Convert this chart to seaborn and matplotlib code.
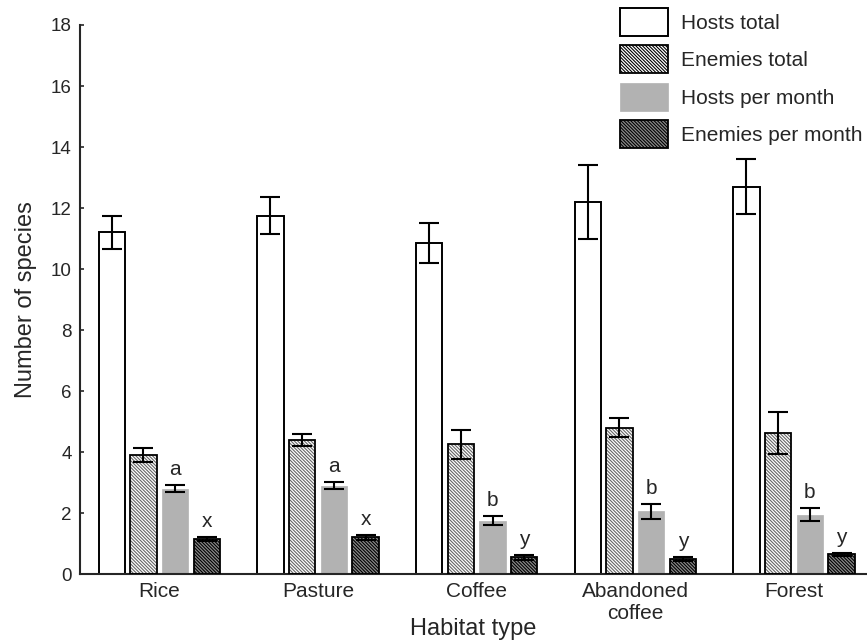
import matplotlib
matplotlib.use("Agg")
import matplotlib.pyplot as plt
from matplotlib.patches import Patch
import seaborn as sns
import pandas as pd

# values
habitats = ["Rice", "Pasture", "Coffee", "Abandoned\ncoffee", "Forest"]
measures = ["Hosts total", "Enemies total", "Hosts per month", "Enemies per month"]

hosts_total = [11.2, 11.75, 10.85, 12.2, 12.7]
hosts_total_se = [0.55, 0.6, 0.65, 1.2, 0.9]
enemies_total = [3.9, 4.4, 4.25, 4.8, 4.62]
enemies_total_se = [0.22, 0.2, 0.48, 0.31, 0.7]
hosts_month = [2.8, 2.9, 1.75, 2.05, 1.95]
hosts_month_se = [0.12, 0.12, 0.15, 0.24, 0.22]
enemies_month = [1.15, 1.2, 0.55, 0.5, 0.65]
enemies_month_se = [0.06, 0.09, 0.08, 0.07, 0.05]

letters_hosts = ["a", "a", "b", "b", "b"]
letters_enemies = ["x", "x", "y", "y", "y"]

means = [hosts_total, enemies_total, hosts_month, enemies_month]
errs = [hosts_total_se, enemies_total_se, hosts_month_se, enemies_month_se]

rows = []
for m, vals in zip(measures, means):
    for h, v in zip(habitats, vals):
        rows.append({"Habitat": h, "Measure": m, "Mean": v})
df = pd.DataFrame(rows)

sns.set_style("ticks")
plt.rcParams["font.family"] = ["Liberation Sans", "DejaVu Sans"]
plt.rcParams["hatch.linewidth"] = 0.8

fig = plt.figure(figsize=(8.67, 6.41), dpi=100)
ax = fig.add_axes([0.0923, 0.1045, 0.9077, 0.8565])

fills = ["white", "white", "#b2b2b2", "#8a8a8a"]
hatch_cols = [None, "#666666", None, "black"]
hatches = [None, "\\" * 10, None, "\\" * 10]

sns.barplot(data=df, x="Habitat", y="Mean", hue="Measure", hue_order=measures,
            order=habitats, palette=fills, width=0.8, gap=0.17, legend=False,
            errorbar=None, ax=ax)

bar_sets = list(ax.containers)
for i, cont in enumerate(bar_sets):
    xs = []
    w = 0
    for p in cont.patches:
        xs.append(p.get_x() + p.get_width() / 2)
        w = p.get_width()
        p.set_facecolor(fills[i])
        if i == 0:
            p.set_edgecolor("black")
            p.set_linewidth(1.4)
        elif i == 2:
            p.set_edgecolor(fills[i])
            p.set_linewidth(0.5)
        else:
            p.set_edgecolor(hatch_cols[i])
            p.set_hatch(hatches[i])
            p.set_linewidth(0)
    if hatches[i]:
        ax.bar(xs, means[i], width=w, fill=False, edgecolor="black", linewidth=1.3, zorder=3)
    ax.errorbar(xs, means[i], yerr=errs[i], fmt="none", ecolor="black",
                elinewidth=1.5, capsize=7.5, capthick=1.5, zorder=4)
    if i in (2, 3):
        labs = letters_hosts if i == 2 else letters_enemies
        for x, v, e, t in zip(xs, means[i], errs[i], labs):
            ax.text(x, v + e + 0.5, t, ha="center", va="center", fontsize=15)

ax.set_ylim(0, 18)
ax.set_xlim(-0.5, 4.46)
ax.set_yticks(range(0, 19, 2))
ax.tick_params(axis="y", direction="in", length=3, width=1.2, labelsize=13.5, pad=6)
ax.tick_params(axis="x", length=0, labelsize=15, pad=6)
for lab in ax.get_xticklabels():
    lab.set_linespacing(1.15)
for s in ["left", "bottom"]:
    ax.spines[s].set_linewidth(1.5)
sns.despine(ax=ax)
ax.set_xlabel("Habitat type", fontsize=17, va="center")
ax.xaxis.set_label_coords(0.5, -0.1)
ax.set_ylabel("Number of species", fontsize=17, labelpad=10)

handles = []
for i, m in enumerate(measures):
    if i == 0:
        handles.append(Patch(facecolor="white", edgecolor="black", linewidth=1.4, label=m))
    elif i == 2:
        handles.append(Patch(facecolor=fills[i], edgecolor=fills[i], linewidth=0.5, label=m))
    else:
        handles.append(Patch(facecolor=fills[i], edgecolor="black", hatch=hatches[i],
                             linewidth=1.3, label=m))
fig.legend(handles=handles, loc="upper left", bbox_to_anchor=(0.715, 0.988),
           frameon=False, fontsize=15, handlelength=2.3, handleheight=1.7,
           labelspacing=0.45, handletextpad=0.65, borderpad=0, borderaxespad=0)

fig.savefig("out.png", dpi=100)
